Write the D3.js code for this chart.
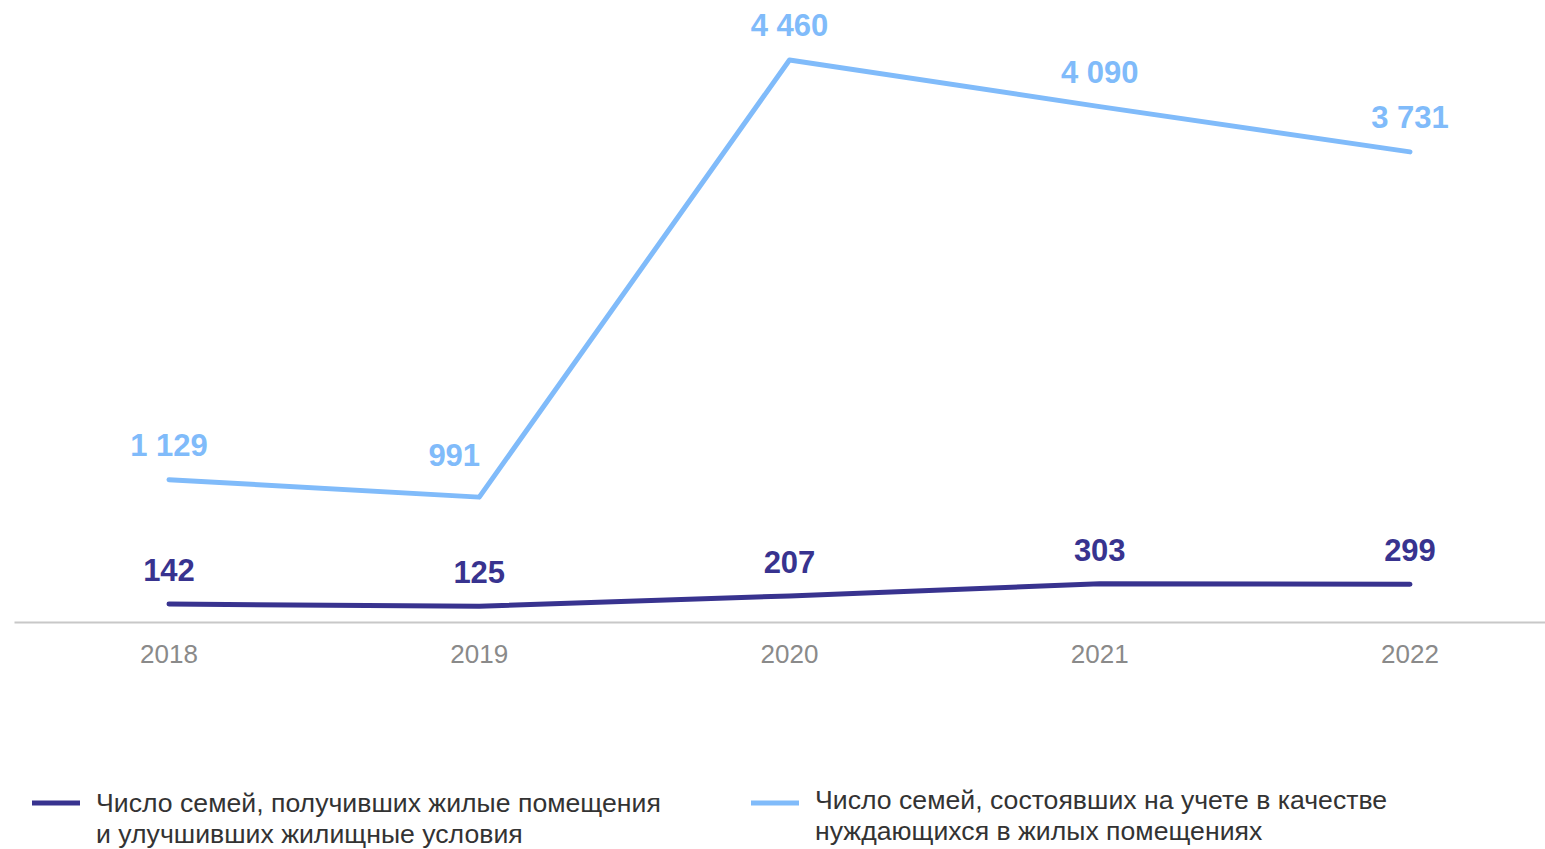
<!DOCTYPE html>
<html lang="ru">
<head>
<meta charset="UTF-8">
<title>Число семей</title>
<style>
body { margin: 0; background: #fff; }
svg { display: block; font-family: "Liberation Sans", Arial, sans-serif; }
.axis path { stroke: #c8c8c8; stroke-width: 2; }
.axis line { display: none; }
.val { font-size: 31px; font-weight: bold; text-anchor: middle; }
.leg { font-size: 25px; fill: #333; }
</style>
</head>
<body>
<script src="https://cdn.jsdelivr.net/npm/d3@7"></script>
<script>
var years = ['2018', '2019', '2020', '2021', '2022'];
var received = [142, 125, 207, 303, 299];
var registered = [1129, 991, 4460, 4090, 3731];
var receivedLabels = ['142', '125', '207', '303', '299'];
var registeredLabels = ['1 129', '991', '4 460', '4 090', '3 731'];
var legendLines = [
  ['Число семей, получивших жилые помещения', 'и улучшивших жилищные условия'],
  ['Число семей, состоявших на учете в качестве', 'нуждающихся в жилых помещениях']
];

var width = 1545, height = 849;
var colors = ['#38338f', '#80bbfa'];

var svg = d3.select('body').append('svg')
    .attr('width', width).attr('height', height);

var x = d3.scalePoint().domain(years).range([169, 1410]);
var y = d3.scaleLinear().domain([0, 4460]).range([622, 60]);

// axis line across full width
var axisX = d3.scaleLinear().domain([0, 1]).range([14, 1545]);
svg.append('g').attr('class', 'axis')
    .attr('transform', 'translate(0,622)')
    .call(d3.axisBottom(axisX).ticks(0).tickSizeOuter(0));

svg.append('g').selectAll('text').data(years).enter().append('text')
    .attr('x', d => x(d)).attr('y', 663)
    .attr('text-anchor', 'middle')
    .attr('font-size', 26).attr('fill', '#8a8a8a')
    .text(d => d);

var line = d3.line().x((d, i) => x(years[i])).y(d => y(d));

// label shifts: 991 sits left of and higher than its point
var series = [
  { values: received, labels: receivedLabels, dx: [0, 0, 0, 0, 0], dy: [-23, -23, -23, -23, -23] },
  { values: registered, labels: registeredLabels, dx: [0, -25, 0, 0, 0], dy: [-24, -31, -24, -24, -24] }
];

series.forEach(function (s, k) {
  svg.append('path')
      .attr('d', line(s.values))
      .attr('fill', 'none')
      .attr('stroke', colors[k])
      .attr('stroke-width', 5)
      .attr('stroke-linecap', 'round')
      .attr('stroke-linejoin', 'round');
  svg.append('g').selectAll('text').data(s.values).enter().append('text')
      .attr('class', 'val')
      .attr('x', (d, i) => x(years[i]) + s.dx[i])
      .attr('y', (d, i) => y(d) + s.dy[i])
      .attr('fill', colors[k])
      .text((d, i) => s.labels[i]);
});

// legend
var legX = [32, 751], legY = [812, 809];
legendLines.forEach(function (lines, k) {
  var g = svg.append('g').attr('transform', 'translate(' + legX[k] + ',0)');
  g.append('line').attr('x1', 0).attr('x2', 48).attr('y1', 803).attr('y2', 803)
      .attr('stroke', colors[k]).attr('stroke-width', 5);
  var t = g.append('text').attr('class', 'leg')
      .attr('transform', 'translate(64,' + legY[k] + ') scale(1.066,1)');
  lines.forEach(function (l, j) {
    t.append('tspan').attr('x', 0).attr('y', j * 31).text(l);
  });
});
</script>
</body>
</html>
